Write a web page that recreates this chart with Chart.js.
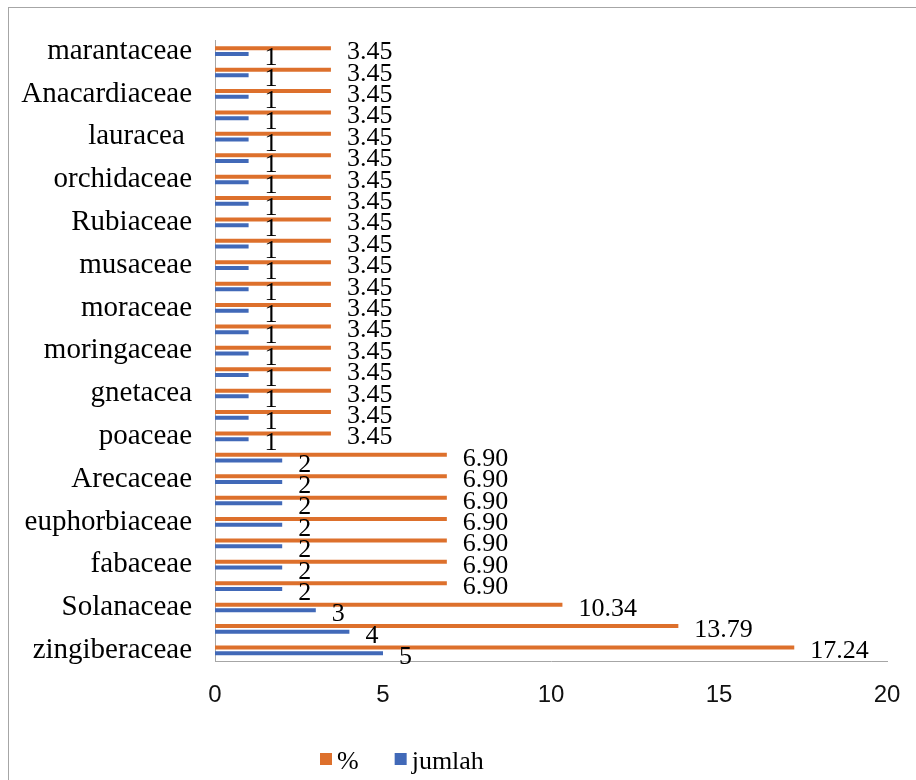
<!DOCTYPE html>
<html>
<head>
<meta charset="utf-8">
<script src="https://cdn.jsdelivr.net/npm/chart.js@4.4.1/dist/chart.umd.min.js"></script>
<style>
    body { margin: 0; background: #fff; overflow: hidden; }
    #frame { position: absolute; left: 8px; top: 7px; width: 1000px; height: 1000px; border: 1.5px solid #a6a6a6; }
    #myChart { position: absolute; left: 0; top: 0; }
</style>
</head>
<body>
<div id="frame"></div>
<canvas id="myChart" width="916" height="780"></canvas>
<script>
// categories, top to bottom (unlabelled rows left blank as in the original)
var families = ["marantaceae", "", "Anacardiaceae", "", "lauracea ", "", "orchidaceae", "",
    "Rubiaceae", "", "musaceae", "", "moraceae", "", "moringaceae", "", "gnetacea", "",
    "poaceae", "", "Arecaceae", "", "euphorbiaceae", "", "fabaceae", "", "Solanaceae", "",
    "zingiberaceae"];

var persen = [3.45, 3.45, 3.45, 3.45, 3.45, 3.45, 3.45, 3.45, 3.45, 3.45,
    3.45, 3.45, 3.45, 3.45, 3.45, 3.45, 3.45, 3.45, 3.45,
    6.90, 6.90, 6.90, 6.90, 6.90, 6.90, 6.90,
    10.34, 13.79, 17.24];

var jumlah = [1, 1, 1, 1, 1, 1, 1, 1, 1, 1,
    1, 1, 1, 1, 1, 1, 1, 1, 1,
    2, 2, 2, 2, 2, 2, 2,
    3, 4, 5];

var xTicks = [0, 5, 10, 15, 20];

var orange = "#dd702c";
var blue = "#4169b8";
var serif = "'Liberation Serif', 'Times New Roman', serif";

// value labels at the end of each bar
var barLabels = {
    id: 'barLabels',
    afterDatasetsDraw: function(chart) {
        var ctx = chart.ctx;
        ctx.save();
        ctx.font = "26px " + serif;
        ctx.fillStyle = "#000";
        ctx.textAlign = "left";
        ctx.textBaseline = "alphabetic";
        chart.data.datasets.forEach(function(ds, di) {
            var meta = chart.getDatasetMeta(di);
            meta.data.forEach(function(bar, i) {
                var v = ds.data[i];
                var txt = di == 0 ? v.toFixed(2) : String(v);
                ctx.fillText(txt, bar.x + 16, bar.y + 11);
            });
        });
        ctx.restore();
    }
};

// legend drawn by hand so the box/text spacing matches the original
var bottomLegend = {
    id: 'bottomLegend',
    afterDraw: function(chart) {
        var ctx = chart.ctx;
        ctx.save();
        ctx.font = "26px " + serif;
        ctx.textBaseline = "alphabetic";
        var x = 320;
        chart.data.datasets.forEach(function(ds) {
            ctx.fillStyle = ds.backgroundColor;
            ctx.fillRect(x, 753, 12, 12);
            ctx.fillStyle = "#000";
            ctx.fillText(ds.label, x + 17, 769);
            x += 17 + ctx.measureText(ds.label).width + 36;
        });
        ctx.restore();
    }
};

var ctx = document.getElementById("myChart");
var myBarChart = new Chart(ctx, {
    type: 'bar',
    data: {
        labels: families,
        datasets: [
            { label: "%", data: persen, backgroundColor: orange, categoryPercentage: 0.533, barPercentage: 0.7 },
            { label: "jumlah", data: jumlah, backgroundColor: blue, categoryPercentage: 0.533, barPercentage: 0.7 }
        ]
    },
    options: {
        indexAxis: 'y',
        responsive: false,
        animation: false,
        layout: { padding: { top: 40, right: 29, left: 0, bottom: 0 } },
        plugins: {
            legend: { display: false },
            tooltip: { enabled: false }
        },
        scales: {
            x: {
                min: 0,
                max: 20,
                afterBuildTicks: function(scale) {
                    scale.ticks = xTicks.map(function(v) { return { value: v }; });
                },
                afterFit: function(scale) {
                    scale.height = 119;
                    scale.paddingLeft = 0;
                    scale.paddingRight = 0;
                },
                grid: { display: false, drawTicks: false },
                border: { display: true, color: "#a6a6a6", width: 1 },
                ticks: {
                    padding: 20,
                    color: "#111",
                    font: { family: "'Liberation Sans', Arial, sans-serif", size: 24 }
                }
            },
            y: {
                afterFit: function(scale) { scale.width = 215; },
                grid: { display: false, drawTicks: false },
                border: { display: true, color: "#a6a6a6", width: 1 },
                ticks: {
                    autoSkip: false,
                    padding: 23,
                    color: "#000",
                    font: { family: serif, size: 29 }
                }
            }
        }
    },
    plugins: [barLabels, bottomLegend]
});
</script>
</body>
</html>
